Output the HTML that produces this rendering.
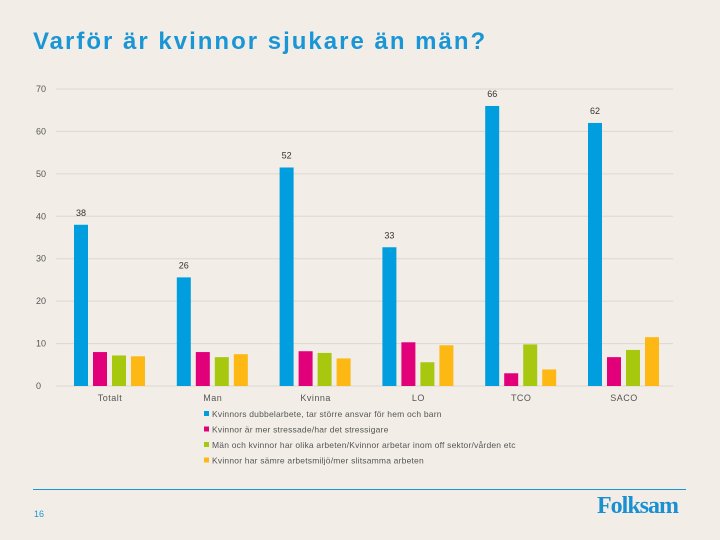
<!DOCTYPE html>
<html><head><meta charset="utf-8"><style>
body{margin:0;background:#f2eee7;}
#wrap{position:relative;width:720px;height:540px;background:#f2eee7;font-family:"Liberation Sans",sans-serif;overflow:hidden}
</style></head><body>
<div id="wrap">
<div style="position:absolute;left:33px;top:28px;font-size:24px;font-weight:bold;letter-spacing:2px;color:#1a95d6">Varför är kvinnor sjukare än män?</div>
<svg id="chart" width="720" height="540" style="position:absolute;left:0;top:0"></svg>
<div style="position:absolute;left:33px;top:489px;width:653px;height:1px;background:#1a95d6"></div>
<div style="position:absolute;left:34px;top:509px;font-size:9px;color:#1a95d6">16</div>
<div style="position:absolute;left:597px;top:493px;font-family:'Liberation Serif',serif;font-weight:bold;font-size:24px;color:#1a90d2;letter-spacing:-1px">Folksam</div>
</div>
<script>
const categories=["Totalt","Man","Kvinna","LO","TCO","SACO"];
const seriesNames=["Kvinnors dubbelarbete, tar större ansvar för hem och barn","Kvinnor är mer stressade/har det stressigare","Män och kvinnor har olika arbeten/Kvinnor arbetar inom off sektor/vården etc","Kvinnor har sämre arbetsmiljö/mer slitsamma arbeten"];
const s1=[38,25.6,51.5,32.7,66,62];
const s2=[8,8,8.2,10.3,3,6.8];
const s3=[7.2,6.8,7.8,5.6,9.8,8.5];
const s4=[7,7.5,6.5,9.6,3.9,11.5];
const yTicks=[0,10,20,30,40,50,60,70];
const colors=["#009ddf","#e2007a","#a8c80f","#fdb813"];
const series=[s1,s2,s3,s4];
const svg=document.getElementById('chart');const NS="http://www.w3.org/2000/svg";
const y0=386,yTop=89,yMax=70;
function y(v){return y0-(v/yMax)*(y0-yTop);}
function gx(i){return 74+i*102.8;}
function mk(t,a){const e=document.createElementNS(NS,t);for(const k in a)e.setAttribute(k,a[k]);svg.appendChild(e);return e;}
yTicks.forEach(t=>{
 const l=mk('line',{x1:56,x2:673,y1:y(t),y2:y(t),stroke:'#dcd8d0','stroke-width':1});
 
 
 const tx=mk('text',{x:36,y:y(t)+3,'font-size':9,fill:'#555','font-family':'Liberation Sans, sans-serif'});tx.textContent=t;
 
 
});
categories.forEach((c,i)=>{
 series.forEach((s,j)=>{
  const r=mk('rect',{x:gx(i)+j*19,y:y(s[i]),width:14,height:y0-y(s[i]),fill:colors[j]});
  
  
 });
 const lb=mk('text',{x:gx(i)+7,y:y(s1[i])-9,'font-size':9,fill:'#333','text-anchor':'middle','font-family':'Liberation Sans, sans-serif'});lb.textContent=Math.round(s1[i]);
 
 
 const cl=mk('text',{x:gx(i)+36,y:401,'font-size':9,fill:'#555','text-anchor':'middle','letter-spacing':0.5,'font-family':'Liberation Sans, sans-serif'});cl.textContent=c;
 
 
});
seriesNames.forEach((n,j)=>{
 const yy=416+j*15.5;
 const sq=mk('rect',{x:204,y:yy-5,width:5,height:5,fill:colors[j]});
 
 
 const t=mk('text',{x:212,y:yy+1,'font-size':8.5,fill:'#555','letter-spacing':0.2,'font-family':'Liberation Sans, sans-serif'});t.textContent=n;
 
 
});
</script>
</body></html>
